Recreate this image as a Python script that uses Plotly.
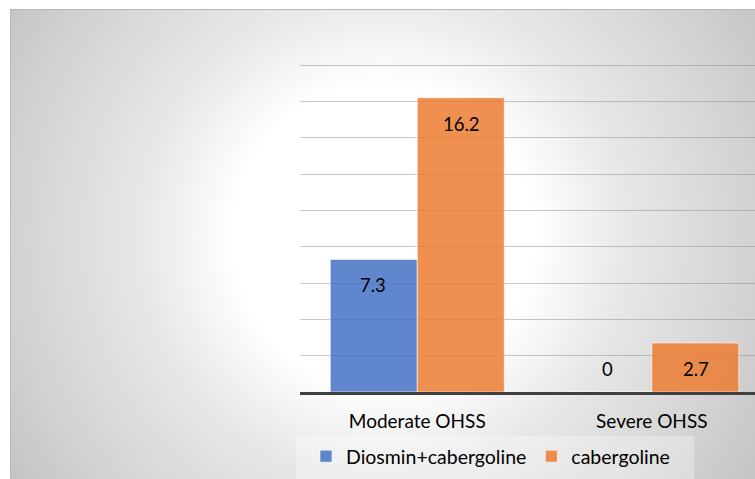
import base64, struct, zlib
import numpy as np
import plotly.graph_objects as go

# ---- data ----
categories = ["Moderate OHSS", "Severe OHSS"]
series_names = ["Diosmin+cabergoline", "cabergoline"]
diosmin_vals = [7.3, 0]
cabergoline_vals = [16.2, 2.7]
label_diosmin = ["7.3", "0"]
label_cabergoline = ["16.2", "2.7"]
y_max = 18
y_step = 2

W, H = 755, 479
PL, PR, PT, PB = 300, 755, 61, 392  # plot area in px
pw, ph = PR - PL, PB - PT
px_per_unit = (PB - 65) / y_max  # top gridline sits at px 65

FONT = "Lato"

# ---- background radial gradient (style only) ----
yy, xx = np.mgrid[0:H, 0:W]
d = np.hypot(xx - 383, yy - 235)
g = np.interp(d, [0, 150, 240, 370, 450, 650], [255, 255, 232, 210, 195, 170])
g[(xx < 10) | (yy < 9)] = 255
g[(yy == 9) & (xx >= 10)] = 185
g[(xx == 10) & (yy >= 9)] = 185
img = np.clip(np.round(g), 0, 255).astype(np.uint8)


def png_gray(arr):
    h, w = arr.shape
    raw = b"".join(b"\x00" + arr[i].tobytes() for i in range(h))

    def chunk(t, data):
        return (struct.pack(">I", len(data)) + t + data +
                struct.pack(">I", zlib.crc32(t + data) & 0xffffffff))

    return (b"\x89PNG\r\n\x1a\n" +
            chunk(b"IHDR", struct.pack(">IIBBBBB", w, h, 8, 0, 0, 0, 0)) +
            chunk(b"IDAT", zlib.compress(raw, 9)) + chunk(b"IEND", b""))


uri = "data:image/png;base64," + base64.b64encode(png_gray(img)).decode()


def px_x(p):
    return (p - PL) / pw


def px_y(p):
    return (PB - p) / ph


fig = go.Figure()
fig.add_trace(go.Bar(
    name=series_names[0], x=categories, y=diosmin_vals,
    marker=dict(color="rgba(68,114,196,0.85)",
                line=dict(color="rgba(255,255,255,0.6)", width=1)),
))
fig.add_trace(go.Bar(
    name=series_names[1], x=categories, y=cabergoline_vals,
    marker=dict(color="rgba(237,125,49,0.85)",
                line=dict(color="rgba(255,255,255,0.6)", width=1)),
))

# data labels (inside end; zero values sit just above the baseline)
for vals, labels, dx in ((diosmin_vals, label_diosmin, -44),
                         (cabergoline_vals, label_cabergoline, 44)):
    for cat, v, t in zip(categories, vals, labels):
        fig.add_annotation(x=cat, y=v, text=t, showarrow=False, xref="x", yref="y",
                           xshift=dx, yshift=(-26 if v > 0 else 23),
                           font=dict(family=FONT, size=18.5, color="#000"))

fig.update_layout(
    width=W, height=H, autosize=False,
    margin=dict(l=PL, r=W - PR, t=PT, b=H - PB, pad=0),
    paper_bgcolor="white", plot_bgcolor="rgba(0,0,0,0)",
    barmode="group", bargap=0.258, bargroupgap=0,
    font=dict(family=FONT, size=19, color="#000"),
    showlegend=True,
    legend=dict(orientation="h", x=px_x(306), xanchor="left", y=px_y(437), yanchor="top",
                bgcolor="rgba(0,0,0,0)", borderwidth=0, itemwidth=30,
                font=dict(family=FONT, size=19.5, color="#000"),
                itemclick=False, itemdoubleclick=False),
    images=[dict(source=uri, xref="paper", yref="paper", x=px_x(0), y=px_y(0),
                 sizex=W / pw, sizey=H / ph, xanchor="left", yanchor="top",
                 sizing="stretch", layer="below")],
    shapes=[dict(type="rect", xref="paper", yref="paper", x0=px_x(296), x1=px_x(694),
                 y0=px_y(436), y1=px_y(481), fillcolor="rgba(255,255,255,0.3)",
                 line=dict(width=0), layer="below")],
)
fig.update_xaxes(type="category", range=[-0.5, 1.44], showline=True, linecolor="#404040",
                 linewidth=2.5, ticks="outside", ticklen=10, tickcolor="rgba(0,0,0,0)",
                 showgrid=False, zeroline=False, tickfont=dict(family=FONT, size=19, color="#000"))
fig.update_yaxes(range=[0, ph / px_per_unit], tick0=0, dtick=y_step, showgrid=True,
                 gridcolor="rgba(130,130,130,0.45)", gridwidth=1.3, showticklabels=False,
                 zeroline=False, showline=False, ticks="")

fig.write_html("out.html", config={"displayModeBar": False},
               post_script="document.body.style.margin='0';")
